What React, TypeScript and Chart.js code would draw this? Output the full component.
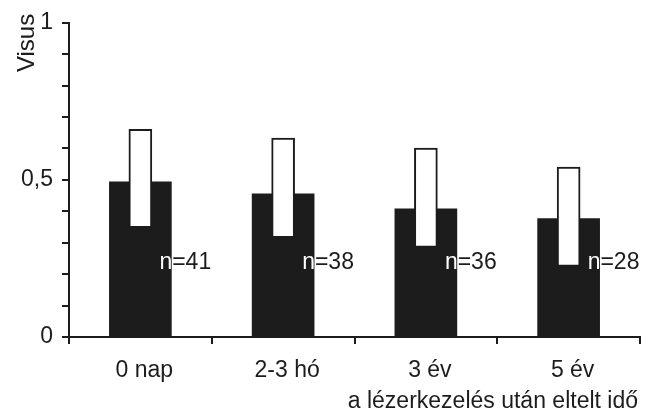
import React, { useEffect, useRef } from "react";
import { Chart, registerables } from "chart.js";

Chart.register(...registerables);

const categories = ["0 nap", "2-3 hó", "3 év", "5 év"];
const meanValues = [0.494, 0.456, 0.408, 0.377];
const rangeLow = [0.348, 0.316, 0.285, 0.225];
const rangeHigh = [0.661, 0.633, 0.601, 0.541];
const nLabels = ["n=41", "n=38", "n=36", "n=28"];
const yLabelValues = [0, 0.5, 1];
const yLabelTexts = ["0", "0,5", "1"];
const yTitle = "Visus";
const xTitle = "a lézerkezelés után eltelt idő";

const INK = "#1c1c1c";
const FONT_FAMILY = "'Liberation Sans', Arial, Helvetica, sans-serif";
const FONT_SIZE = 23;
const N_LABEL_LEVEL = 0.236;

const annotationPlugin = {
  id: "annotations",
  afterDatasetsDraw(chart: any) {
    const ctx = chart.ctx;
    const meta = chart.getDatasetMeta(1);
    const yScale = chart.scales.y;
    ctx.save();
    ctx.font = `${FONT_SIZE}px ${FONT_FAMILY}`;
    ctx.textAlign = "left";
    ctx.textBaseline = "middle";
    meta.data.forEach((el: any, i: number) => {
      const p = el.getProps(["x", "y", "base", "width"], true);
      const right = p.x + p.width / 2;
      const tx = right - 12;
      const ty = yScale.getPixelForValue(N_LABEL_LEVEL);
      ctx.fillStyle = INK;
      ctx.fillText(nLabels[i], tx, ty);
      ctx.save();
      ctx.beginPath();
      ctx.rect(p.x - p.width / 2, p.y, p.width, p.base - p.y);
      ctx.clip();
      ctx.fillStyle = "#ffffff";
      ctx.fillText(nLabels[i], tx, ty);
      ctx.restore();
    });
    ctx.restore();
  },
  afterDraw(chart: any) {
    const ctx = chart.ctx;
    const area = chart.chartArea;
    ctx.save();
    ctx.font = `${FONT_SIZE}px ${FONT_FAMILY}`;
    ctx.fillStyle = INK;
    ctx.textBaseline = "alphabetic";
    // x title, right aligned near axis end
    ctx.textAlign = "right";
    ctx.fillText(xTitle, area.right - 2, area.bottom + 71);
    // y title, rotated, ending near top
    ctx.font = `24px ${FONT_FAMILY}`;
    ctx.translate(area.left - 35, area.top - 9);
    ctx.rotate(-Math.PI / 2);
    ctx.textAlign = "right";
    ctx.fillText(yTitle, 0, 0);
    ctx.restore();
  },
};

export default function App() {
  const canvasRef = useRef<HTMLCanvasElement | null>(null);

  useEffect(() => {
    document.body.style.margin = "0";
    const canvas = canvasRef.current;
    if (!canvas) return;
    const chart = new Chart(canvas, {
      type: "bar",
      data: {
        labels: categories,
        datasets: [
          {
            label: "range",
            data: categories.map((_, i) => [rangeLow[i], rangeHigh[i]]),
            backgroundColor: "#ffffff",
            borderColor: INK,
            borderWidth: 2,
            borderSkipped: false,
            barThickness: 23,
            grouped: false,
            order: 0,
          } as any,
          {
            label: "mean",
            data: meanValues,
            backgroundColor: INK,
            borderWidth: 0,
            barThickness: 62,
            grouped: false,
            order: 1,
          } as any,
        ],
      },
      options: {
        responsive: false,
        animation: false,
        devicePixelRatio: 1,
        layout: { padding: { top: 21, right: 14, left: 0, bottom: 0 } },
        plugins: {
          legend: { display: false },
          tooltip: { enabled: false },
          title: { display: false },
        },
        scales: {
          x: {
            type: "category",
            offset: true,
            afterFit: (scale: any) => {
              scale.height = 80;
            },
            grid: {
              offset: true,
              drawOnChartArea: false,
              drawTicks: true,
              tickLength: 7,
              tickWidth: 2,
              tickColor: INK,
              color: INK,
              lineWidth: 2,
            },
            border: { display: true, color: INK, width: 2 },
            ticks: {
              color: INK,
              font: { family: FONT_FAMILY, size: FONT_SIZE },
              padding: 13,
              labelOffset: 4,
              maxRotation: 0,
              autoSkip: false,
            },
          },
          y: {
            type: "linear",
            min: 0,
            max: 1,
            afterFit: (scale: any) => {
              scale.width = 69;
            },
            grid: {
              drawOnChartArea: false,
              drawTicks: true,
              tickLength: 7,
              tickWidth: 2,
              tickColor: INK,
              color: INK,
              lineWidth: 2,
            },
            border: { display: true, color: INK, width: 2 },
            ticks: {
              stepSize: 0.1,
              color: INK,
              font: { family: FONT_FAMILY, size: FONT_SIZE },
              padding: 9,
              autoSkip: false,
              callback: (value: any) => {
                const v = Number(value);
                const idx = yLabelValues.findIndex((t) => Math.abs(t - v) < 1e-6);
                return idx >= 0 ? yLabelTexts[idx] : "";
              },
            },
          },
        },
      },
      plugins: [annotationPlugin],
    });
    return () => chart.destroy();
  }, []);

  return (
    <div style={{ width: 654, height: 417, background: "#ffffff" }}>
      <canvas ref={canvasRef} width={654} height={417} />
    </div>
  );
}
